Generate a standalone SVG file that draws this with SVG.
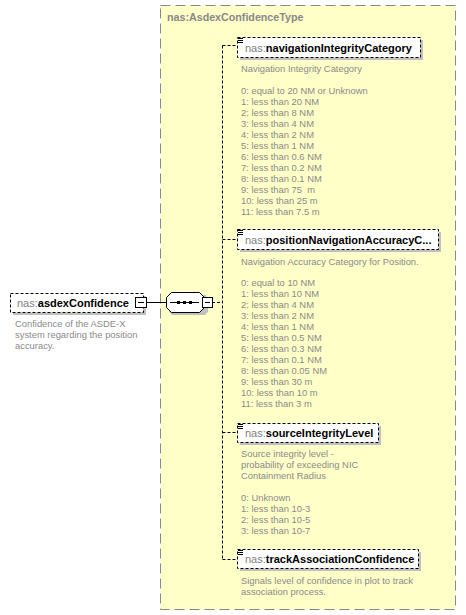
<svg xmlns="http://www.w3.org/2000/svg" width="466" height="615" viewBox="0 0 466 615">
<style>
.ns{fill:#808080;font-family:"Liberation Sans",Arial,sans-serif;font-size:11px}
.nm{fill:#000;font-weight:bold;font-family:"Liberation Sans",Arial,sans-serif;font-size:11px}
.doc{fill:#8a8a8a;font-family:"Liberation Sans",Arial,sans-serif;font-size:9.4px}
.box{fill:#fff;stroke:#000;stroke-width:1;stroke-dasharray:3,2}
.shadow{fill:#c0c0c0}
.conn{fill:none;stroke:#000;stroke-width:1;stroke-dasharray:3,2}
.solid{fill:none;stroke:#000;stroke-width:1}
.icon{stroke:#000;stroke-width:1}
</style>
<rect width="466" height="615" fill="#fff"/>

<g id="type-AsdexConfidenceType">
<rect x="160.5" y="5.5" width="295" height="604" fill="#ffffc8" stroke="#888" stroke-width="1" stroke-dasharray="10,5"/>
<text x="167" y="21" fill="#888" font-family="'Liberation Sans',Arial,sans-serif" font-size="10.7" font-weight="bold">nas:AsdexConfidenceType</text>
</g>

<g id="connectors">
<line class="solid" x1="147" y1="302.5" x2="166" y2="302.5"/>
<line class="conn" x1="212" y1="302.5" x2="222.5" y2="302.5"/>
<line class="conn" x1="222.5" y1="45.5" x2="222.5" y2="559.5"/>
<line class="conn" x1="222.5" y1="45.5" x2="237" y2="45.5"/>
<line class="conn" x1="222.5" y1="239.5" x2="237" y2="239.5"/>
<line class="conn" x1="222.5" y1="432.5" x2="237" y2="432.5"/>
<line class="conn" x1="222.5" y1="559.5" x2="237" y2="559.5"/>
</g>

<g id="asdexConfidence">
<rect class="shadow" x="13" y="296" width="133" height="19"/>
<rect class="box" x="10.5" y="293.5" width="133" height="19"/>
<text x="17" y="307"><tspan class="ns">nas:</tspan><tspan class="nm">asdexConfidence</tspan></text>
<rect x="135.5" y="297.5" width="11" height="10" fill="#fff" stroke="#000"/>
<line class="icon" x1="138" y1="302.5" x2="144" y2="302.5"/>
<text class="doc" x="15"><tspan x="15" y="327">Confidence of the ASDE-X</tspan><tspan x="15" y="338">system regarding the position</tspan><tspan x="15" y="349">accuracy.</tspan></text>
</g>

<g id="sequence">
<polygon points="172,295 205,295 208,298 208,312 205,315 172,315 169,312 169,298" fill="#c0c0c0"/>
<polygon points="171.5,292.5 199.5,292.5 204.5,297.5 204.5,307.5 199.5,312.5 171.5,312.5 166.5,307.5 166.5,297.5" fill="#fff" stroke="#000"/>
<line class="solid" x1="170" y1="302.5" x2="199" y2="302.5"/>
<rect x="177" y="301" width="3" height="3" fill="#000"/>
<rect x="183" y="301" width="3" height="3" fill="#000"/>
<rect x="189" y="301" width="3" height="3" fill="#000"/>
<rect x="202.5" y="297.5" width="10" height="10" fill="#fff" stroke="#000"/>
<line class="icon" x1="205" y1="302.5" x2="210" y2="302.5"/>
</g>

<g id="navigationIntegrityCategory">
<rect class="shadow" x="240" y="40" width="183" height="20"/>
<rect class="box" x="237.5" y="37.5" width="183" height="20"/>
<path class="icon" d="M238 38.5h5M238 40.5h5M238 42.5h5"/>
<text x="245" y="52"><tspan class="ns">nas:</tspan><tspan class="nm">navigationIntegrityCategory</tspan></text>
<text class="doc"><tspan x="241" y="72">Navigation Integrity Category</tspan><tspan x="241" y="94">0: equal to 20 NM or Unknown</tspan><tspan x="241" y="105">1: less than 20 NM</tspan><tspan x="241" y="116">2: less than 8 NM</tspan><tspan x="241" y="127">3: less than 4 NM</tspan><tspan x="241" y="138">4: less than 2 NM</tspan><tspan x="241" y="149">5: less than 1 NM</tspan><tspan x="241" y="160">6: less than 0.6 NM</tspan><tspan x="241" y="171">7: less than 0.2 NM</tspan><tspan x="241" y="182">8: less than 0.1 NM</tspan><tspan x="241" y="193" xml:space="preserve">9: less than 75  m</tspan><tspan x="241" y="204">10: less than 25 m</tspan><tspan x="241" y="215">11: less than 7.5 m</tspan></text>
</g>

<g id="positionNavigationAccuracyCategory">
<rect class="shadow" x="240" y="232" width="201" height="20"/>
<rect class="box" x="237.5" y="229.5" width="201" height="20"/>
<path class="icon" d="M238 230.5h5M238 232.5h5M238 234.5h5"/>
<text x="245" y="244"><tspan class="ns">nas:</tspan><tspan class="nm">positionNavigationAccuracyC...</tspan></text>
<text class="doc"><tspan x="241" y="265">Navigation Accuracy Category for Position.</tspan><tspan x="241" y="286">0: equal to 10 NM</tspan><tspan x="241" y="297">1: less than 10 NM</tspan><tspan x="241" y="308">2: less than 4 NM</tspan><tspan x="241" y="319">3: less than 2 NM</tspan><tspan x="241" y="330">4: less than 1 NM</tspan><tspan x="241" y="341">5: less than 0.5 NM</tspan><tspan x="241" y="352">6: less than 0.3 NM</tspan><tspan x="241" y="363">7: less than 0.1 NM</tspan><tspan x="241" y="374">8: less than 0.05 NM</tspan><tspan x="241" y="385">9: less than 30 m</tspan><tspan x="241" y="396">10: less than 10 m</tspan><tspan x="241" y="407">11: less than 3 m</tspan></text>
</g>

<g id="sourceIntegrityLevel">
<rect class="shadow" x="240" y="426" width="141" height="19"/>
<rect class="box" x="237.5" y="423.5" width="141" height="19"/>
<path class="icon" d="M238 424.5h5M238 426.5h5M238 428.5h5"/>
<text x="245" y="437"><tspan class="ns">nas:</tspan><tspan class="nm">sourceIntegrityLevel</tspan></text>
<text class="doc"><tspan x="241" y="457">Source integrity level -</tspan><tspan x="241" y="468">probability of exceeding NIC</tspan><tspan x="241" y="479">Containment Radius</tspan><tspan x="241" y="501">0: Unknown</tspan><tspan x="241" y="512">1: less than 10-3</tspan><tspan x="241" y="523">2: less than 10-5</tspan><tspan x="241" y="534">3: less than 10-7</tspan></text>
</g>

<g id="trackAssociationConfidence">
<rect class="shadow" x="240" y="552" width="181" height="19"/>
<rect class="box" x="237.5" y="549.5" width="181" height="19"/>
<path class="icon" d="M238 550.5h5M238 552.5h5M238 554.5h5"/>
<text x="245" y="563"><tspan class="ns">nas:</tspan><tspan class="nm">trackAssociationConfidence</tspan></text>
<text class="doc"><tspan x="241" y="584">Signals level of confidence in plot to track</tspan><tspan x="241" y="595">association process.</tspan></text>
</g>
</svg>
